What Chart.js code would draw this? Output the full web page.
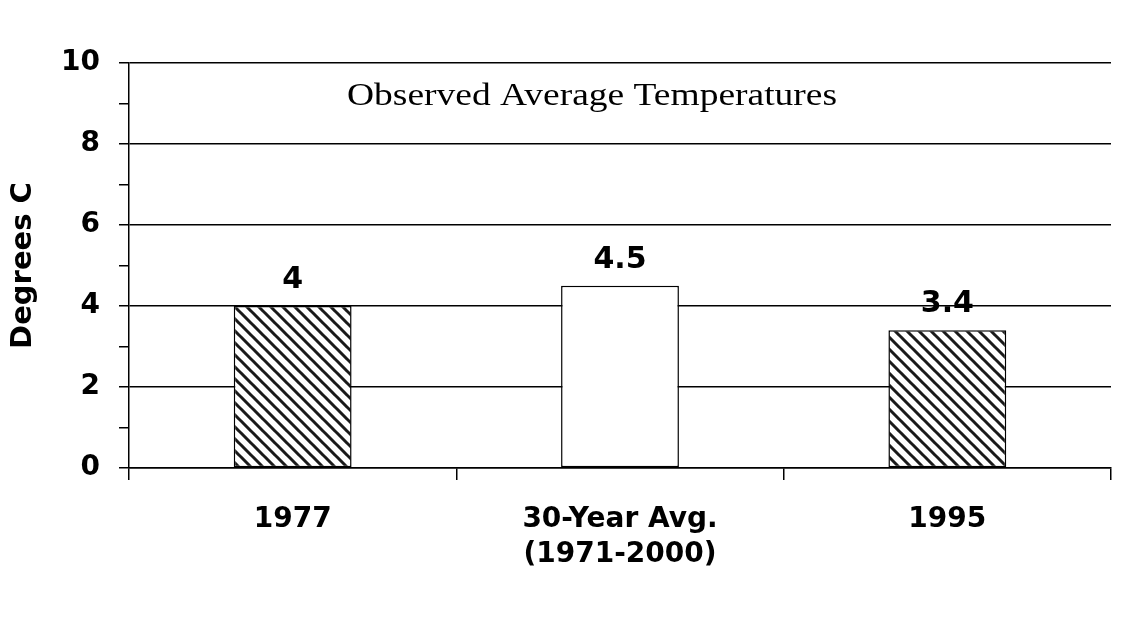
<!DOCTYPE html>
<html>
<head>
<meta charset="utf-8">
<script src="https://cdn.jsdelivr.net/npm/chart.js@4/dist/chart.umd.min.js"></script>
<style>
  html, body { margin: 0; padding: 0; background: #fff; }
  #c { display: block; }
</style>
</head>
<body>
<canvas id="c" width="1123" height="617"></canvas>
<script>
const categories = ['1977', ['30-Year Avg.', '(1971-2000)'], '1995'];
const temperatures = [4, 4.5, 3.4];
const valueLabels = ['4', '4.5', '3.4'];
const hatched = [true, false, true];
const chartTitle = 'Observed Average Temperatures';
const yAxisTitle = 'Degrees C';
const yMin = 0, yMax = 10, yStep = 1;

function makeHatch() {
  const s = 12;
  const p = document.createElement('canvas');
  p.width = s; p.height = s;
  const g = p.getContext('2d');
  g.fillStyle = '#fff';
  g.fillRect(0, 0, s, s);
  g.strokeStyle = '#1a1a1a';
  g.lineWidth = 3;
  g.beginPath();
  for (const k of [-s, 0, s]) {
    g.moveTo(k - 1, -1);
    g.lineTo(k + s + 1, s + 1);
  }
  g.stroke();
  return document.getElementById('c').getContext('2d').createPattern(p, 'repeat');
}
const hatch = makeHatch();

const labelPlugin = {
  id: 'labels',
  afterDatasetsDraw(chart) {
    const ctx = chart.ctx;
    const meta = chart.getDatasetMeta(0);
    ctx.save();
    ctx.fillStyle = '#000';
    ctx.textAlign = 'center';
    ctx.textBaseline = 'alphabetic';
    ctx.font = 'bold 30px "DejaVu Sans"';
    meta.data.forEach((bar, i) => {
      ctx.fillText(valueLabels[i], bar.x, bar.y - 18);
    });
    ctx.font = '31px "Liberation Serif"';
    const w = ctx.measureText(chartTitle).width;
    const sx = 490 / w;
    ctx.translate(592, 105);
    ctx.scale(sx, 1);
    ctx.fillText(chartTitle, 0, 0);
    ctx.restore();
  }
};

new Chart(document.getElementById('c'), {
  type: 'bar',
  data: {
    labels: categories,
    datasets: [{
      data: temperatures,
      backgroundColor: hatched.map(h => h ? hatch : '#fff'),
      borderColor: '#000',
      borderWidth: 1.5,
      borderSkipped: false,
      barPercentage: 0.36,
      categoryPercentage: 1
    }]
  },
  options: {
    responsive: false,
    animation: false,
    layout: { padding: { top: 63, right: 12, left: 0, bottom: 0 } },
    plugins: { legend: { display: false }, tooltip: { enabled: false }, title: { display: false } },
    scales: {
      x: {
        grid: { drawOnChartArea: false, drawTicks: true, tickLength: 12, tickColor: '#000', lineWidth: 1.5, offset: true },
        border: { display: true, color: '#000', width: 1.5 },
        ticks: { color: '#000', font: { family: 'DejaVu Sans', weight: 'bold', size: 28, lineHeight: 1.25 }, padding: 22, maxRotation: 0 },
        afterFit: s => { s.height = 149; }
      },
      y: {
        min: yMin, max: yMax,
        ticks: {
          stepSize: yStep,
          autoSkip: false,
          color: '#000',
          padding: 19,
          font: { family: 'DejaVu Sans', weight: 'bold', size: 28 },
          callback: v => (v % 2 === 0 ? String(v) : '')
        },
        grid: {
          color: c => (c.tick && c.tick.value % 2 === 0 ? '#000' : 'rgba(0,0,0,0)'),
          tickColor: '#000',
          lineWidth: 1.5,
          tickLength: 10
        },
        border: { display: true, color: '#000', width: 1.5 },
        title: {
          display: true, text: yAxisTitle, color: '#000',
          font: { family: 'DejaVu Sans', weight: 'bold', size: 29 },
          padding: { top: 6, bottom: 0 }
        },
        afterFit: s => { s.width = 129; }
      }
    }
  },
  plugins: [labelPlugin]
});
</script>
</body>
</html>
